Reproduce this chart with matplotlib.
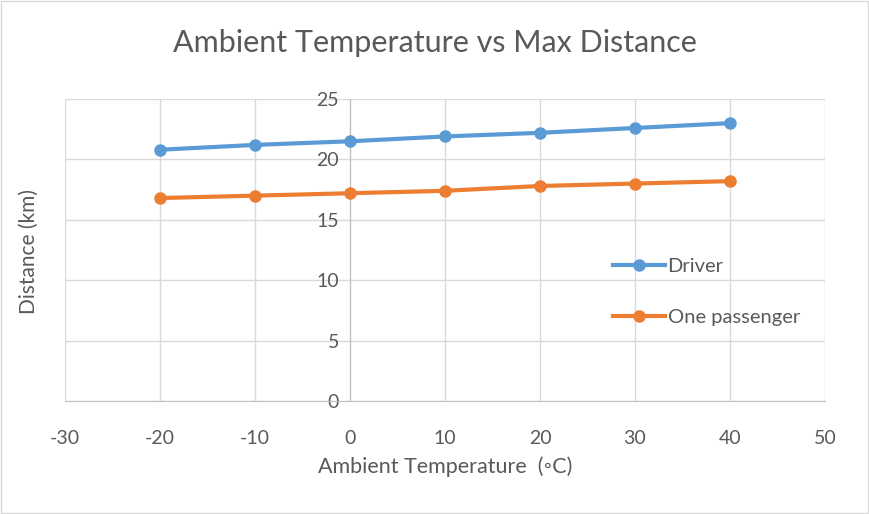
import matplotlib.pyplot as plt

temps = [-20, -10, 0, 10, 20, 30, 40]
driver = [20.8, 21.2, 21.5, 21.9, 22.2, 22.6, 23.0]
one_passenger = [16.8, 17.0, 17.2, 17.4, 17.8, 18.0, 18.2]

plt.rcParams["font.family"] = ["Lato", "DejaVu Sans"]
plt.rcParams["axes.unicode_minus"] = False
text_color = "#595959"

fig = plt.figure(figsize=(8.69, 5.14), dpi=100)
ax = fig.add_axes([65 / 869, 1 - 401 / 514, 760 / 869, 302 / 514])

ax.plot(temps, driver, color="#5B9BD5", linewidth=3, marker="o",
        markersize=8, label="Driver", zorder=3)
ax.plot(temps, one_passenger, color="#ED7D31", linewidth=3, marker="o",
        markersize=8, label="One passenger", zorder=3)

ax.set_xlim(-30, 50)
ax.set_ylim(0, 25)
ax.set_xticks(range(-30, 51, 10))
ax.set_yticks(range(0, 26, 5))
ax.grid(True, color="#d9d9d9", linewidth=1)
ax.set_axisbelow(True)

for side in ["top", "right"]:
    ax.spines[side].set_visible(False)
ax.spines["left"].set_position(("data", 0))
ax.spines["left"].set_color("#bfbfbf")
ax.spines["bottom"].set_color("#bfbfbf")
ax.spines["left"].set_zorder(2)
ax.tick_params(length=0, labelsize=14, colors=text_color)
ax.tick_params(axis="x", pad=21)
ax.tick_params(axis="y", pad=8)

ax.set_xlabel("Ambient Temperature  (◦C)", fontsize=15.5, color=text_color, labelpad=7)
fig.text(29 / 869, 1 - 252 / 514, "Distance (km)", rotation=90, fontsize=15,
         color=text_color, ha="center", va="center")
fig.suptitle("Ambient Temperature vs Max Distance", fontsize=22, color=text_color,
             y=1 - 43 / 514, va="center")

ax.legend(loc="center left", bbox_to_anchor=(595 / 869, 1 - 292 / 514),
          bbox_transform=fig.transFigure, frameon=False, fontsize=14.5,
          labelcolor=text_color, handlelength=2.6, handletextpad=0.1,
          labelspacing=1.7)

fig.patches.append(plt.Rectangle((0.001, 0.001), 0.998, 0.998, transform=fig.transFigure,
                                 fill=False, edgecolor="#d9d9d9", linewidth=1))

fig.savefig("out.png", dpi=100)
